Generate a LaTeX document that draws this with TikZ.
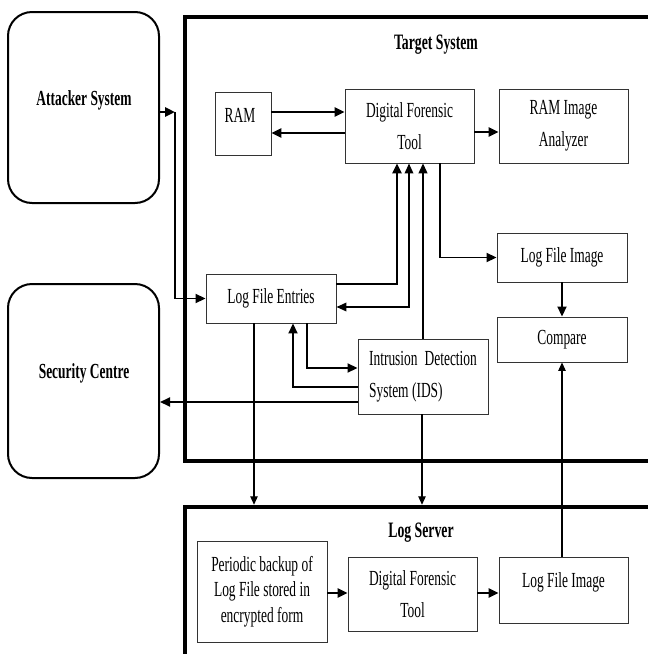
\documentclass[tikz,border=0pt]{standalone}
\usepackage{fontspec}
\setmainfont[FakeStretch=0.625]{Liberation Serif}
\usetikzlibrary{arrows.meta}
\begin{document}
\begin{tikzpicture}[x=1pt,y=-1pt,
  font=\fontsize{21.5}{32}\selectfont,
  box/.style={draw=black!80, line width=0.9pt, inner sep=0pt, align=center},
  rbox/.style={draw=black, line width=2pt, rounded corners=24pt, inner sep=0pt, align=center},
  frame/.style={draw=black, line width=4.5pt, inner sep=0pt},
  thk/.style={line width=2.8pt},
  med/.style={line width=1.8pt},
  thn/.style={line width=1.1pt},
  arr/.style={-{Triangle[length=10pt,width=9pt]}},
  barr/.style={{Triangle[length=10pt,width=8.5pt]}-{Triangle[length=10pt,width=8.5pt]}},
  sarr/.style={-{Triangle[length=8.5pt,width=7.5pt]}}]
\useasboundingbox (0,0) rectangle (648,654);
\clip (0,0) rectangle (648,654);

% frames
\node[frame, minimum width=515pt, minimum height=444pt] (ts) at (442.5,239) {};
\node[frame, minimum width=515pt, minimum height=213pt] (ls) at (442.5,613.5) {};
\node[font=\fontsize{22}{32}\selectfont\bfseries] (tstitle) at (436,45) {Target System};
\node[font=\fontsize{22}{32}\selectfont\bfseries] (lstitle) at (421,533) {Log Server};

% outside systems
\node[rbox, minimum width=151pt, minimum height=191pt] (att) at (83.5,107.5) {};
\node[font=\fontsize{21.5}{32}\selectfont\bfseries] (atttxt) at (84,100) {Attacker System};
\node[rbox, minimum width=151pt, minimum height=194pt] (sc) at (83.5,381) {};
\node[font=\fontsize{21.5}{32}\selectfont\bfseries] (sctxt) at (84,373) {Security Centre};

% target system boxes
\node[box, minimum width=56pt, minimum height=63pt] (ram) at (243,123.5) {};
\node (ramtxt) at (240,115) {RAM};
\node[box, minimum width=129pt, minimum height=74pt] (dft) at (409.5,126) {Digital Forensic\\Tool};
\node[box, minimum width=129pt, minimum height=74pt] (ria) at (563.5,126) {RAM Image\\Analyzer};
\node[box, minimum width=130pt, minimum height=49pt] (lfe) at (271,298.5) {Log File Entries};
\node[box, minimum width=130pt, minimum height=49pt] (lfi) at (562,257.5) {Log File Image};
\node[box, minimum width=130pt, minimum height=45pt] (cmp) at (562,339.5) {Compare};
\node[box, minimum width=130pt, minimum height=75pt, align=left] (ids) at (423,376.5) {Intrusion\hspace{7pt}Detection\\System (IDS)};

% log server boxes
\node[box, minimum width=130pt, minimum height=101pt, font=\fontsize{21.5}{25.5}\selectfont] (per) at (262,591.5) {Periodic backup of\\Log File stored in\\encrypted form};
\node[box, minimum width=129pt, minimum height=74pt] (dft2) at (412.5,594) {Digital Forensic\\Tool};
\node[box, minimum width=129pt, minimum height=66pt] (lfi2) at (563.5,590) {};
\node (lfi2txt) at (563.5,582) {Log File Image};

% connectors
\coordinate (aj) at (175,112);
\draw[thk,arr] (att.east |- aj) -- (aj);
\draw[med,arr] (aj) |- (lfe.west);
\draw[thk,arr] (ram.east |- 0,112) -- (dft.west |- 0,112);
\draw[thk,arr] (dft.west |- 0,133) -- (ram.east |- 0,133);
\draw[thk,arr] (dft.east |- 0,132) -- (ria.west |- 0,132);
\draw[thk,arr] (lfe.east |- 0,284) -| (dft.south -| 397,0);
\draw[med,barr] (dft.south -| 409,0) |- (lfe.east |- 0,307);
\draw[thn,arr] (ids.north -| 423,0) -- (dft.south -| 423,0);
\draw[med,arr] (dft.south -| 440,0) |- (lfi.west);
\draw[med,arr] (lfi.south) -- (cmp.north);
\draw[med,arr] (lfe.south -| 307,0) |- (ids.west |- 0,368);
\draw[med,arr] (ids.west |- 0,387) -| (lfe.south -| 293,0);
\draw[med,arr] (ids.west |- 0,402) -- (sc.east |- 0,402);
\draw[thn,sarr] (lfe.south -| 254,0) -- (ls.north -| 254,0);
\draw[thn,sarr] (ids.south -| 422,0) -- (ls.north -| 422,0);
\draw[thn,sarr] (lfi2.north -| 562,0) -- (cmp.south -| 562,0);
\draw[thk,arr] (per.east |- 0,593) -- (dft2.west |- 0,593);
\draw[thk,arr] (dft2.east |- 0,593) -- (lfi2.west |- 0,593);
\end{tikzpicture}
\end{document}
